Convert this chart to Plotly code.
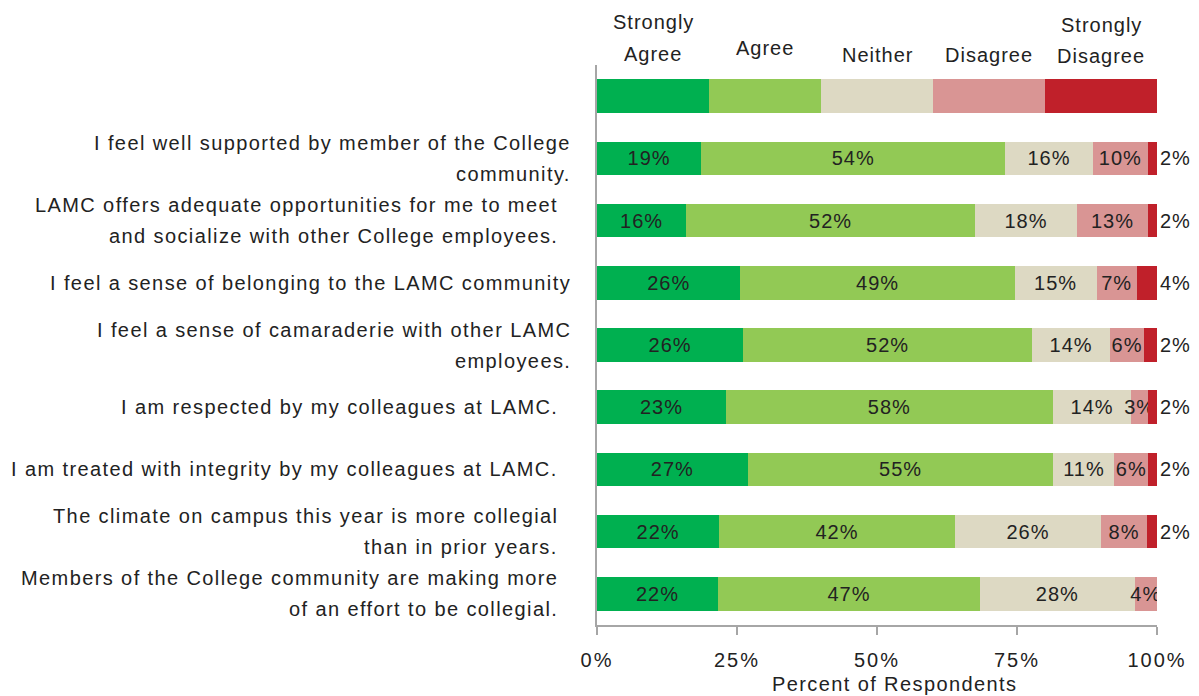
import plotly.graph_objects as go

# ---- data ----
questions = [
    "I feel well supported by member of the College<br>community.",
    "LAMC offers adequate opportunities for me to meet<br>and socialize with other College employees.",
    "I feel a sense of belonging to the LAMC community",
    "I feel a sense of camaraderie with other LAMC<br>employees.",
    "I am respected by my colleagues at LAMC.",
    "I am treated with integrity by my colleagues at LAMC.",
    "The climate on campus this year is more collegial<br>than in prior years.",
    "Members of the College community are making more<br>of an effort to be collegial.",
]
series_names = ["Strongly<br>Agree", "Agree", "Neither", "Disagree", "Strongly<br>Disagree"]
strongly_agree = [18.6, 15.9, 25.6, 26.1, 23.0, 26.9, 21.8, 21.6]
agree = [54.3, 51.6, 49.0, 51.6, 58.4, 54.6, 42.1, 46.8]
neither = [15.6, 18.2, 14.6, 13.9, 14.0, 10.9, 26.1, 27.6]
disagree = [9.9, 12.7, 7.2, 6.1, 3.0, 6.0, 8.2, 4.0]
strongly_disagree = [1.6, 1.6, 3.6, 2.3, 1.6, 1.6, 1.8, 0.0]
key_values = [20, 20, 20, 20, 20]  # colour key bar at the top
x_ticks = [0, 25, 50, 75, 100]

# ---- style ----
colors = ["#00B050", "#92C955", "#DDD9C3", "#D99594", "#C0202A"]
FONT = "Liberation Sans"
FS = 20
TXT = "#222222"
label_right_pad = [24, 37, 24, 24, 37, 37, 37, 37]


def sp(s, ls=1.4):
    return f"<span style='letter-spacing:{ls}px'>{s}</span>"


key_cat = " "
cats = [key_cat] + questions
series = [strongly_agree, agree, neither, disagree, strongly_disagree]

fig = go.Figure()
for i, (name, vals) in enumerate(zip(series_names, series)):
    xs = [key_values[i]] + vals
    if i < 4:
        texts = [""] + [sp(f"{v:.0f}%", 1.0) if v > 0 else "" for v in vals]
    else:
        texts = [""] * len(xs)
    fig.add_trace(go.Bar(
        y=cats, x=xs, orientation="h", name=name.replace("<br>", " "),
        marker=dict(color=colors[i], line=dict(width=0)),
        text=texts, textposition="inside", insidetextanchor="middle",
        textangle=0, constraintext="none",
        textfont=dict(family=FONT, size=FS, color=TXT),
        hoverinfo="skip", showlegend=False,
    ))

annotations = []
# strongly disagree labels outside right
for q, v in zip(questions, strongly_disagree):
    if v > 0:
        annotations.append(dict(x=100, y=q, xref="x", yref="y", text=sp(f"{v:.0f}%", 1.0),
                                showarrow=False, xanchor="left", xshift=1,
                                font=dict(family=FONT, size=FS, color=TXT)))
# question labels (right aligned, separate lines)
for q, pad in zip(questions, label_right_pad):
    lines = q.split("<br>")
    n = len(lines)
    for j, line in enumerate(lines):
        shift = (n - 1) * 15.5 - j * 31
        annotations.append(dict(x=0, y=q, xref="paper", yref="y", text=sp(line),
                                showarrow=False, xanchor="right", xshift=-pad,
                                yshift=shift,
                                font=dict(family=FONT, size=FS, color=TXT)))
# header labels above key bar
header_y = [[22, 54], [48], [55], [55], [25, 56]]
for i, name in enumerate(series_names):
    lines = name.split("<br>")
    for line, ypix in zip(lines, header_y[i]):
        annotations.append(dict(x=key_values[i] * i + key_values[i] / 2, y=1, xref="x",
                                yref="paper", text=sp(line, 1.0), showarrow=False,
                                yanchor="middle", yshift=65 - ypix,
                                font=dict(family=FONT, size=FS, color=TXT)))
# axis title
annotations.append(dict(x=0.5, y=0, xref="paper", yref="paper",
                        text=sp("Percent of Respondents"), showarrow=False,
                        yanchor="middle", yshift=-59, xshift=17,
                        font=dict(family=FONT, size=FS, color=TXT)))

fig.update_layout(
    width=1199, height=696,
    margin=dict(l=597, r=42, t=65, b=71, pad=0),
    barmode="stack", bargap=0.46,
    plot_bgcolor="white", paper_bgcolor="white",
    font=dict(family=FONT, size=FS, color=TXT),
    annotations=annotations,
    xaxis=dict(range=[0, 100], tickvals=x_ticks,
               ticktext=[sp(f"{t}%", 2.0) for t in x_ticks],
               showgrid=False, zeroline=False, showline=True,
               linecolor="#A6A6A6", linewidth=1.5,
               ticks="outside", ticklen=8, tickcolor="#A6A6A6", tickwidth=1.5,
               ticklabelstandoff=8,
               tickfont=dict(family=FONT, size=FS, color=TXT), fixedrange=True),
    xaxis2=dict(range=[0, 100], overlaying="x", anchor="y", side="bottom",
                tickvals=x_ticks, showticklabels=False, showgrid=False,
                zeroline=False, showline=False, ticks="inside", ticklen=8,
                tickcolor="#A6A6A6", tickwidth=1.5, matches="x"),
    yaxis=dict(categoryorder="array", categoryarray=cats, autorange="reversed",
               showticklabels=False, showgrid=False, zeroline=False,
               showline=True, linecolor="#A6A6A6", linewidth=1.5, ticks="",
               fixedrange=True),
)

fig.write_html("out.html")
